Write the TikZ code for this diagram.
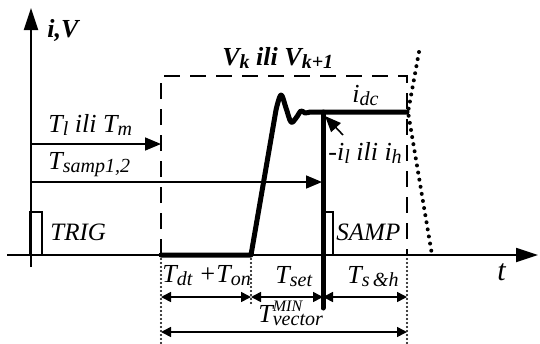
\documentclass[tikz,border=0pt]{standalone}
\usepackage{fontspec}
\setmainfont{Liberation Serif}
\usetikzlibrary{arrows.meta}
\newcommand{\lo}[1]{\raisebox{-1.8pt}{\fontsize{10}{11}\selectfont #1}}
\newcommand{\hi}[1]{\raisebox{5.5pt}{\fontsize{8}{9}\selectfont #1}}
\tikzset{
  axis/.style={line width=0.9pt,-{Triangle[length=11pt,width=7pt]}},
  wave/.style={line width=2.5pt,line join=round,line cap=round},
  frame/.style={line width=1.2pt,dash pattern=on 8pt off 5pt},
  guide/.style={line width=1.2pt,dash pattern=on 0pt off 2pt,line cap=round},
  fall/.style={line width=2pt,dash pattern=on 0pt off 3.6pt,line cap=round},
  dim/.style={line width=0.8pt,{Triangle[length=5pt,width=5pt]}-{Triangle[length=5pt,width=5pt]}},
  pointer/.style={line width=0.8pt,-{Triangle[length=8pt,width=6.5pt]}},
  pulse/.style={line width=1.1pt},
  lab/.style={font=\fontsize{13}{14}\selectfont\itshape,inner sep=0pt,anchor=base west},
}
\tikzset{bold/.style={font=\fontsize{13}{14}\selectfont\bfseries\itshape}}

\begin{document}
\begin{tikzpicture}[x=0.5pt,y=-0.5pt]
\useasboundingbox (0,0) rectangle (540,343);
% axes
\coordinate (o) at (31,255);
\coordinate (ybot) at (31,267);
\coordinate (ytop) at (31,8);
\coordinate (xleft) at (7,255);
\coordinate (xright) at (538,255);
\draw[axis] (ybot)--(ytop);
\draw[axis] (xleft)--(xright);
% time marks
\coordinate (ta) at (161,255);
\coordinate (tb) at (251,255);
\coordinate (tc) at (323,255);
\coordinate (td) at (407,255);
\coordinate (fa) at (161,76);
\coordinate (fd) at (407,76);
\draw[frame] (ta)--(fa)--(fd)--(td);
\draw[guide] (ta)--(161,343);
\draw[guide] (tb)--(251,306);
\draw[guide] (td)--(407,343);
% waveform
\coordinate (top) at (323,112);
\coordinate (tend) at (323,308);
\coordinate (dcend) at (407,112);
\draw[wave] (ta)--(tb)--(276,110)
  plot[smooth,tension=0.6] coordinates {(276,110) (281,95) (286,108) (291,122) (296,118) (301,111) (305,113) (310,112)}
  --(dcend);
\draw[wave] (top)--(tend);
% falling edge
\draw[fall] (419,52)--(408,112)--(432,255);
% pulses
\draw[pulse] (15,255)--(30,255)--(30,212)--(42,212)--(42,255)--(53,255);
\draw[pulse] (307,255)--(323,255)--(323,212)--(333,212)--(333,255)--(347,255);
% times
\coordinate (tl) at (31,144);
\coordinate (tlend) at (161,144);
\coordinate (ts) at (31,182);
\coordinate (tsend) at (322,182);
\draw[pointer] (tl)--(tlend);
\draw[pointer] (ts)--(tsend);
\coordinate (ih) at (343,135);
\coordinate (ihend) at (325,116);
\draw[pointer] (ih)--(ihend);
\draw[dim] (161,297)--(251,297);
\draw[dim] (251,297)--(323,297);
\draw[dim] (323,297)--(407,297);
\draw[dim] (161,332)--(407,332);
% labels
\node[lab,bold] (lIV) at (47,37) {i,V};
\node[lab,bold] (lV) at (222,65) {V\lo{\bfseries k} ili V\lo{\bfseries k+1}};
\node[lab] (lTl) at (48,132) {T\lo{l} ili T\lo{m}};
\node[lab] (lTs) at (48,169) {T\lo{samp1,2}};
\node[lab,font=\fontsize{12.5}{14}\selectfont\itshape] (lTRIG) at (50,240) {TRIG};
\node[lab,font=\fontsize{12.5}{14}\selectfont\itshape] (lSAMP) at (336,240) {SAMP};
\node[lab] (lidc) at (352,102) {i\lo{dc}};
\node[lab] (lih) at (328,160) {-i\lo{l} ili i\lo{h}};
\node[lab,font=\fontsize{15}{16}\selectfont\itshape] (lt) at (497,280) {t};
\node[lab] (ldt) at (162,282) {T\lo{dt} +T\lo{on}};
\node[lab] (lset) at (275,283) {T\lo{set}};
\node[lab] (lsh) at (347,283) {T\lo{s\,\&h}};
\node[lab] (lvec) at (258,322) {T\rlap{\hi{MIN}}\lo{vector}};
\end{tikzpicture}
\end{document}
